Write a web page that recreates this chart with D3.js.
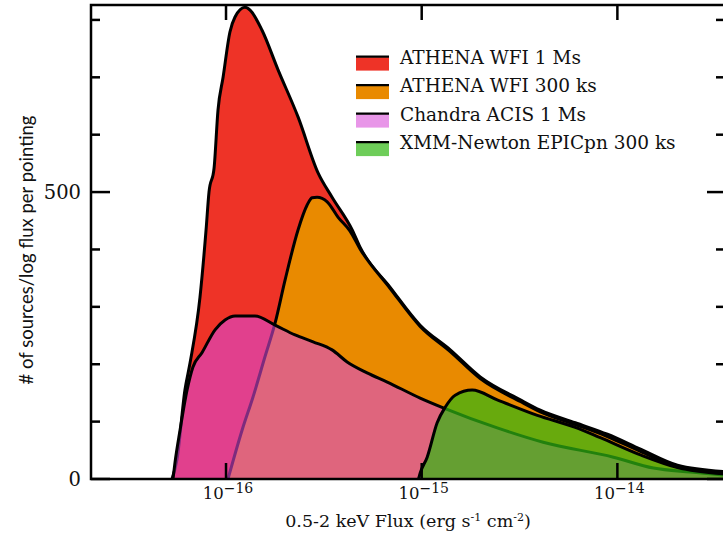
<!DOCTYPE html>
<html>
<head>
<meta charset="utf-8">
<script src="https://cdn.jsdelivr.net/npm/d3@7"></script>
<style>
  body { margin: 0; background: #fff; }
  svg { display: block; }
</style>
</head>
<body>
<div id="chart"></div>
<script>
// log10 of 0.5-2 keV flux, and number of sources per log flux per pointing
const athena1msLogF = [-16.276, -16.251, -16.210, -16.184, -16.133, -16.102, -16.087, -16.061, -16.041, -16.015, -15.980, -15.954, -15.903, -15.877, -15.816, -15.734, -15.632, -15.529, -15.458, -15.355, -15.315, -15.161, -15.008, -14.854, -14.701, -14.496, -14.394, -14.215, -14.051, -13.882, -13.693, -13.458];
const athena1msN    = [0, 33, 155, 202, 317, 434, 500, 542, 643, 700, 779, 805, 822, 817, 782, 713, 631, 533, 491, 434, 404, 334, 268, 225, 178, 138, 120, 98, 78, 52, 24, 13];

const athena300LogF = [-15.990, -15.918, -15.862, -15.801, -15.749, -15.698, -15.632, -15.586, -15.560, -15.535, -15.483, -15.427, -15.366, -15.315, -15.161, -15.008, -14.854, -14.701, -14.496, -14.394, -14.215, -14.051, -13.882, -13.693, -13.458];
const athena300N    = [0, 85, 143, 213, 272, 347, 434, 477, 490, 491, 483, 456, 432, 401, 332, 266, 222, 175, 135, 117, 95, 74, 48, 21, 11];

const chandraLogF = [-16.271, -16.261, -16.235, -16.199, -16.169, -16.123, -16.056, -16.005, -15.954, -15.852, -15.749, -15.647, -15.555, -15.458, -15.381, -15.279, -15.176, -15.008, -14.890, -14.614, -14.379, -14.020, -13.816, -13.627, -13.458];
const chandraN    = [0, 28, 85, 155, 195, 220, 260, 277, 284, 284, 268, 251, 239, 225, 204, 185, 169, 141, 124, 89, 64, 38, 19, 12, 7];

const xmmLogF = [-15.016, -15.008, -14.972, -14.921, -14.880, -14.829, -14.742, -14.614, -14.409, -14.215, -14.087, -13.882, -13.693, -13.458];
const xmmN    = [0, 10, 38, 98, 125, 146, 155, 138, 111, 90, 72, 42, 20, 9];

const seriesNames = ["ATHENA WFI 1 Ms", "ATHENA WFI 300 ks", "Chandra ACIS 1 Ms", "XMM-Newton EPICpn 300 ks"];
const seriesFills = ["#ee3327", "#e98a00", "rgba(215,74,215,0.58)", "rgba(48,184,19,0.7)"];

const xTickExps = [-16, -15, -14];
const yTicks = [0, 100, 200, 300, 400, 500, 600, 700, 800];
const yTickLabels = [0, 500];

// plot box
var width = 723, height = 535;
var margin = {left: 91, right: 725, top: 5, bottom: 479};

var x = d3.scaleLog()
          .domain([Math.pow(10, -16.69), Math.pow(10, -13.45)])
          .range([margin.left, margin.right]);

var y = d3.scaleLinear()
          .domain([0, 826])
          .range([margin.bottom, margin.top]);

var svg = d3.select("#chart")
            .append("svg")
            .attr("width", width)
            .attr("height", height);

svg.append("defs").append("clipPath")
   .attr("id", "plot")
   .append("rect")
   .attr("x", margin.left).attr("y", margin.top)
   .attr("width", margin.right - margin.left).attr("height", margin.bottom - margin.top);

function toPoints(lf, n) {
  return lf.map(function(d, i) { return {f: Math.pow(10, d), n: n[i]}; });
}

var series = [
  toPoints(athena1msLogF, athena1msN),
  toPoints(athena300LogF, athena300N),
  toPoints(chandraLogF, chandraN),
  toPoints(xmmLogF, xmmN)
];

var area = d3.area()
             .x(function(d) { return x(d.f); })
             .y0(y(0))
             .y1(function(d) { return y(d.n); })
             .curve(d3.curveMonotoneX);

var line = d3.line()
             .x(function(d) { return x(d.f); })
             .y(function(d) { return y(d.n); })
             .curve(d3.curveMonotoneX);

var plot = svg.append("g").attr("clip-path", "url(#plot)");

// each layer: fill then its black outline, so outlines show through later translucent fills
series.forEach(function(pts, i) {
  plot.append("path")
      .datum(pts)
      .attr("fill", seriesFills[i])
      .attr("d", area);
  plot.append("path")
      .datum(pts)
      .attr("fill", "none")
      .attr("stroke", "#000")
      .attr("stroke-width", 3)
      .attr("stroke-linejoin", "round")
      .attr("d", line);
});

// frame
svg.append("path")
   .attr("d", "M" + margin.right + "," + margin.top + "H" + margin.left + "V" + margin.bottom + "H" + margin.right)
   .attr("stroke", "#000")
   .attr("stroke-width", 2.5)
   .attr("fill", "none");

// inward ticks on all sides
var axisG = svg.append("g").attr("stroke", "#000").attr("stroke-width", 2.5);
yTicks.forEach(function(t) {
  var major = yTickLabels.indexOf(t) >= 0;
  axisG.append("line")
       .attr("x1", margin.left).attr("x2", margin.left + (major ? 19 : 9))
       .attr("y1", y(t)).attr("y2", y(t));
  axisG.append("line")
       .attr("x1", 723).attr("x2", 723 - (major ? 16 : 7))
       .attr("y1", y(t)).attr("y2", y(t));
});
xTickExps.forEach(function(e) {
  var px = x(Math.pow(10, e));
  axisG.append("line")
       .attr("x1", px).attr("x2", px)
       .attr("y1", margin.bottom).attr("y2", margin.bottom - 16);
  axisG.append("line")
       .attr("x1", px).attr("x2", px)
       .attr("y1", margin.top).attr("y2", margin.top + 15);
});

var serif = "'DejaVu Serif', 'Liberation Serif', serif";

// y tick labels
svg.selectAll(".ylab")
   .data(yTickLabels)
   .enter().append("text")
   .attr("class", "ylab")
   .attr("x", 81)
   .attr("y", function(d) { return y(d) + 7; })
   .attr("text-anchor", "end")
   .attr("font-family", serif)
   .attr("font-size", 19.5)
   .attr("fill", "#111")
   .text(function(d) { return d; });

// x tick labels 10^e
xTickExps.forEach(function(e) {
  var t = svg.append("text")
             .attr("x", x(Math.pow(10, e)) + 2)
             .attr("y", 499)
             .attr("text-anchor", "middle")
             .attr("font-family", serif)
             .attr("font-size", 16.5)
             .attr("fill", "#111");
  t.append("tspan").text("10");
  t.append("tspan")
   .attr("dy", -6.5)
   .attr("font-size", 14)
   .text("\u2212" + Math.abs(e));
});

// axis titles
var xt = svg.append("text")
            .attr("x", 408)
            .attr("y", 527)
            .attr("text-anchor", "middle")
            .attr("font-family", serif)
            .attr("font-size", 17.5)
            .attr("fill", "#111");
xt.append("tspan").text("0.5-2 keV Flux (erg s");
xt.append("tspan").attr("dy", -6).attr("font-size", 11).text("-1");
xt.append("tspan").attr("dy", 6).text(" cm");
xt.append("tspan").attr("dy", -6).attr("font-size", 11).text("-2");
xt.append("tspan").attr("dy", 6).text(")");

svg.append("text")
   .attr("transform", "translate(33,250) rotate(-90)")
   .attr("text-anchor", "middle")
   .attr("font-family", "Lato, 'Open Sans', sans-serif")
   .attr("font-size", 18.5)
   .attr("fill", "#111")
   .text("# of sources/log flux per pointing");

// legend
var legend = svg.append("g").attr("transform", "translate(356,56)");
seriesNames.forEach(function(name, i) {
  var g = legend.append("g").attr("transform", "translate(0," + (i * 28.5) + ")");
  g.append("rect")
   .attr("x", 0).attr("y", 1.2)
   .attr("width", 33).attr("height", 13.4)
   .attr("fill", seriesFills[i]);
  g.append("line")
   .attr("x1", 0).attr("x2", 33)
   .attr("y1", 0.6).attr("y2", 0.6)
   .attr("stroke", "#000").attr("stroke-width", 2.4);
  g.append("text")
   .attr("x", 44)
   .attr("y", 7.5)
   .attr("font-family", serif)
   .attr("font-size", 18.5)
   .attr("fill", "#111")
   .text(name);
});
</script>
</body>
</html>
